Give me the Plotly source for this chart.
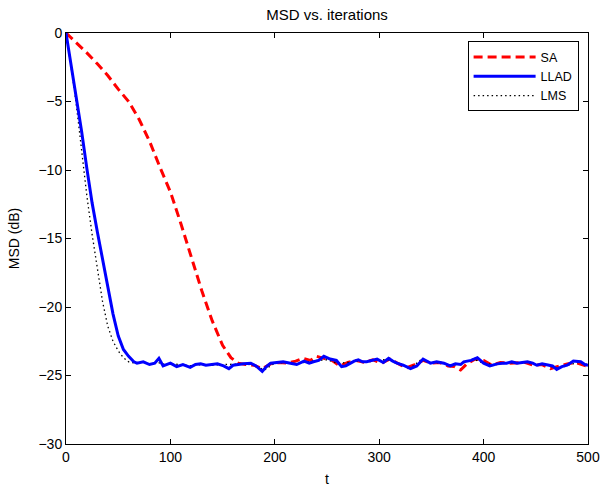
import plotly.graph_objects as go

# ---- data ----
sa_t = [0, 10, 20, 30, 40, 50, 60, 70, 80, 90, 100, 110, 120, 130, 140, 150, 158, 165,
        172, 180, 188, 196, 204, 212, 220, 227, 234, 240, 247, 254, 262, 270, 278, 286,
        294, 302, 310, 318, 326, 334, 342, 350, 358, 366, 372, 378, 384, 392, 400, 408,
        416, 424, 432, 440, 448, 456, 464, 472, 480, 488, 494, 500]
sa_y = [0, -0.7, -1.45, -2.25, -3.1, -4.1, -5.0, -6.3, -7.9, -9.8, -11.6, -13.9, -16.3,
        -18.8, -21.0, -22.8, -23.7, -24.1,
        -24.2, -24.25, -24.5, -24.15, -24.05, -24.1, -23.95, -23.75, -23.9, -23.6, -23.75,
        -23.85, -24.3, -24.05, -23.9, -24.05, -23.85, -24.1, -23.8, -24.15, -24.45, -24.2,
        -23.9, -24.1, -24.05, -24.3, -24.35, -24.6, -24.15, -23.8, -23.9, -24.25, -24.05,
        -24.1, -24.05, -24.05, -24.25, -24.2, -24.5, -24.3, -24.15, -24.05, -24.2, -24.35]

llad_t = [0, 5, 10, 15, 20, 25, 30, 35, 40, 45, 50, 55, 60, 65, 68, 74, 80, 85, 89, 93,
          100, 106, 112, 119, 124, 129, 134, 138, 145, 151, 156, 160, 164, 170, 177, 182,
          188, 192, 196, 202, 208, 215, 221, 228, 233, 237, 242, 247, 253, 259, 264, 268,
          272, 276, 280, 284, 288, 293, 298, 304, 309, 313, 317, 323, 330, 336, 342, 349,
          355, 362, 368, 373, 378, 381, 388, 394, 400, 406, 413, 418, 422, 427, 432, 437,
          442, 447, 451, 456, 461, 466, 470, 475, 480, 486, 493, 497, 500]
llad_y = [0, -2.3, -4.7, -7.2, -9.9, -12.4, -14.5, -16.5, -18.6, -20.5, -22.1, -23.1, -23.6,
          -24.0, -24.1, -24.0, -24.2, -24.1, -23.75, -24.3, -24.1, -24.35, -24.2, -24.4,
          -24.2, -24.15, -24.25, -24.2, -24.15, -24.3, -24.5, -24.25, -24.2, -24.15, -24.1,
          -24.3, -24.7, -24.35, -24.1, -24.05, -24.0, -24.1, -24.2, -23.95, -24.1, -24.0,
          -23.9, -23.6, -23.8, -23.9, -24.35, -24.3, -24.1, -23.95, -23.85, -24.0, -24.0,
          -23.9, -23.8, -24.05, -23.75, -23.95, -24.1, -24.25, -24.5, -24.3, -23.8, -24.1,
          -24.0, -24.1, -24.3, -24.15, -24.2, -24.0, -23.9, -23.7, -24.1, -24.3, -24.15,
          -24.1, -24.1, -24.0, -24.1, -24.05, -24.0, -24.1, -24.25, -24.15, -24.2, -24.3,
          -24.55, -24.35, -24.25, -23.95, -24.0, -24.2, -24.25]

lms_t = [0, 4, 8, 12, 16, 20, 25, 30, 35, 40, 45, 50, 55, 60, 66, 72, 80, 88, 95, 102,
         110, 120, 130, 140, 150, 160, 170, 180, 190, 200, 210, 220, 230, 240, 250, 260,
         270, 280, 290, 300, 310, 320, 330, 340, 350, 360, 370, 380, 390, 400, 410, 420,
         430, 440, 450, 460, 470, 480, 490, 500]
lms_y = [0, -1.9, -4.1, -6.6, -9.3, -11.9, -14.7, -17.3, -19.6, -21.4, -22.5, -23.2, -23.7,
         -24.0, -24.1, -24.0, -24.15, -24.05, -24.2, -24.15, -24.2, -24.3, -24.2, -24.25,
         -24.2, -24.2, -24.15, -24.25, -24.6, -24.1, -24.05, -24.15, -24.0, -23.9, -23.85,
         -24.1, -24.05, -23.95, -24.0, -23.85, -23.85, -24.15, -24.45, -23.85, -24.05,
         -24.1, -24.25, -24.1, -23.8, -24.1, -24.2, -24.1, -24.1, -24.05, -24.2, -24.2,
         -24.5, -24.3, -24.05, -24.2]

x_ticks = [0, 100, 200, 300, 400, 500]
y_ticks = [-30, -25, -20, -15, -10, -5, 0]
y_tick_text = ["\u221230", "\u221225", "\u221220", "\u221215", "\u221210", "\u22125", "0"]

FONT = "Liberation Sans, Arial, Helvetica, sans-serif"

fig = go.Figure()
fig.add_trace(go.Scatter(x=sa_t, y=sa_y, mode="lines", name="SA", legendrank=1,
                         line=dict(color="#ff0000", width=3, dash="9px,5px")))
fig.add_trace(go.Scatter(x=lms_t, y=lms_y, mode="lines", name="LMS", legendrank=3,
                         line=dict(color="#000000", width=1.3, dash="1.5px,3px")))
fig.add_trace(go.Scatter(x=llad_t, y=llad_y, mode="lines", name="LLAD", legendrank=2,
                         line=dict(color="#0000ff", width=3)))

axis_common = dict(showline=True, linecolor="black", linewidth=1, mirror="ticks",
                   ticks="inside", ticklen=5, tickcolor="black", showgrid=False,
                   zeroline=False, automargin=False,
                   tickfont=dict(family=FONT, size=14, color="black"))

fig.update_layout(
    width=600, height=487,
    paper_bgcolor="white", plot_bgcolor="white",
    margin=dict(l=65.6, r=12.2, t=33.3, b=43, autoexpand=False),
    font=dict(family=FONT, size=14, color="black"),
    title=dict(text="MSD vs. iterations", x=0.5, xref="paper", y=0.981, yref="container",
               xanchor="center", yanchor="top", pad=dict(t=0, b=0), automargin=False,
               font=dict(family=FONT, size=15, color="black")),
    xaxis=dict(range=[0, 500], tickvals=x_ticks,
               title=dict(text="t", standoff=10, font=dict(family=FONT, size=14)),
               **axis_common),
    yaxis=dict(range=[-30, 0], tickvals=y_ticks, ticktext=y_tick_text,
               title=dict(text="MSD (dB)", standoff=15, font=dict(family=FONT, size=14)),
               **axis_common),
    legend=dict(x=0.982, y=0.9795, xanchor="right", yanchor="top",
                bgcolor="white", bordercolor="black", borderwidth=1,
                font=dict(family=FONT, size=12.5), traceorder="normal",
                tracegroupgap=0, itemwidth=62),
    showlegend=True,
)

# remove the default 8px page margin so the 600x487 figure fills the window exactly
fig.write_html("out.html",
               config={"displayModeBar": False},
               post_script="document.body.style.margin='0';document.body.style.overflow='hidden';")
